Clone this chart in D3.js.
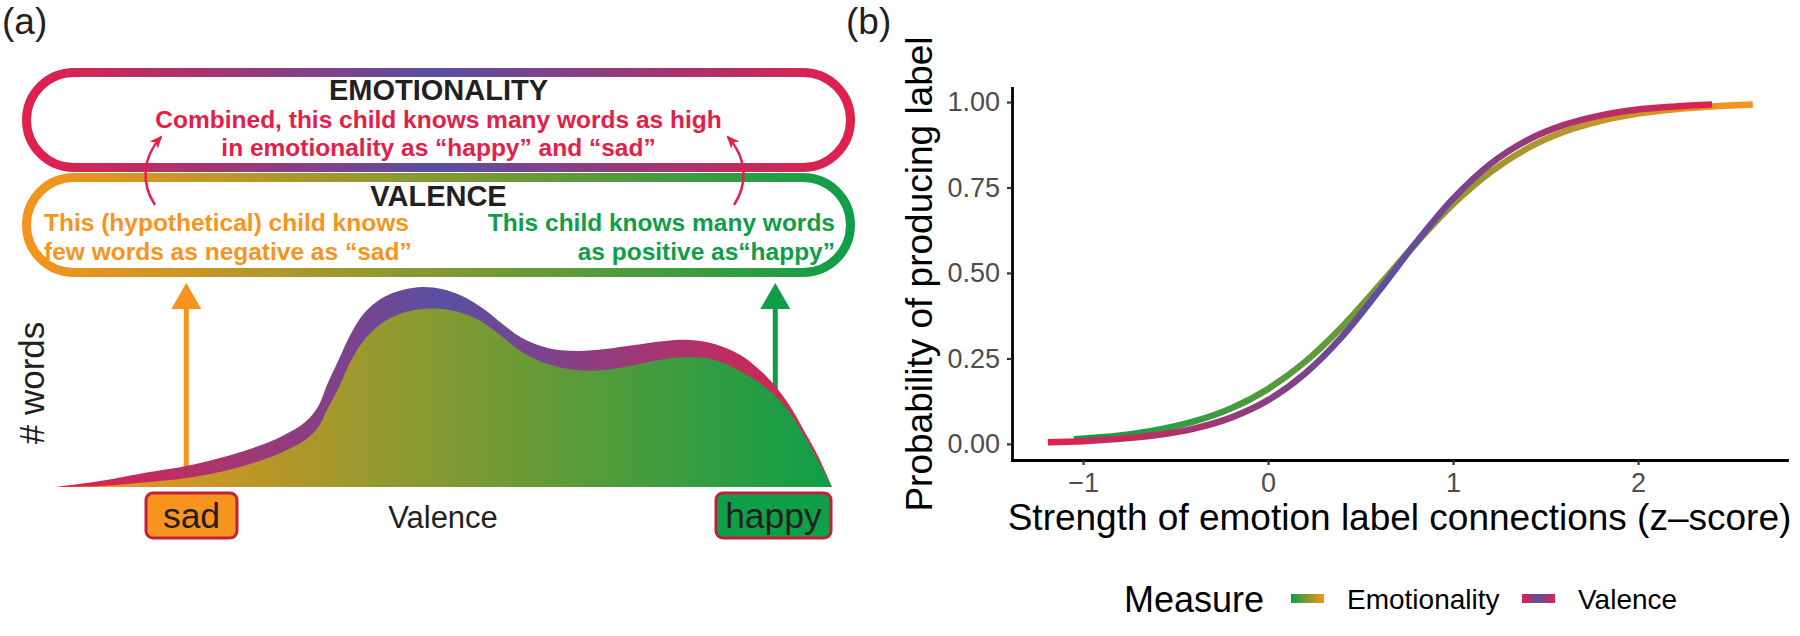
<!DOCTYPE html>
<html>
<head>
<meta charset="utf-8">
<script src="https://cdn.jsdelivr.net/npm/d3@7"></script>
<style>
  body { margin: 0; background: #fff; }
  svg { display: block; font-family: "Liberation Sans", Arial, Helvetica, sans-serif; }
</style>
</head>
<body>
<div id="chart"></div>
<script>
// ---------- panel (a): schematic word-count curve along valence ----------
// outer edge (top of the coloured band) and inner edge (top of the filled area)
var outerX = [0, 5.8, 12.2, 16.9, 21.2, 25.1, 29.0, 32.2, 33.9, 35.0, 36.5, 38.0, 39.8, 42.1, 44.7, 47.3, 49.8, 52.4, 55.0, 57.6, 60.1, 63.4, 67.1, 70.8, 74.6, 78.5, 81.7, 84.9, 88.2, 90.7, 92.9, 94.9, 96.5, 98.2, 100];
var outerY = [0, 3, 7.5, 10.5, 14.5, 19, 25, 32.5, 40.5, 51, 63.5, 76, 87, 94.5, 98.5, 100, 99, 95.5, 89.5, 81.5, 74.5, 69.5, 68, 69, 71, 73, 73.5, 71.5, 66, 58.5, 49.5, 38.5, 27.5, 15.5, 0];
var innerX = [0, 5.8, 12.2, 16.9, 21.2, 25.1, 29.0, 32.2, 33.9, 35.0, 36.5, 38.0, 39.8, 42.1, 44.7, 47.3, 49.8, 52.4, 55.0, 57.6, 60.1, 63.4, 67.1, 70.8, 74.6, 78.5, 81.7, 84.9, 88.2, 90.7, 92.9, 94.9, 96.5, 98.2, 100];
var innerY = [0, 0.5, 2.5, 4.5, 7.5, 11.5, 17, 23.5, 30, 38.5, 49.5, 62.5, 73.5, 82, 87, 89, 89, 87, 82.5, 75, 67.5, 61.5, 58.5, 58.5, 61, 64, 65, 63.5, 58, 52, 45, 35.5, 25.5, 13.5, 0];
var wordMarks = ["sad", "happy"];
var wordMarkX = [16.9, 92.7]; // where the two arrows stand on the valence axis

// ---------- panel (b): predicted probability of producing the label ----------
var emoZ = [-1.05, -0.8, -0.6, -0.4, -0.2, 0, 0.2, 0.4, 0.6, 0.8, 1.0, 1.2, 1.4, 1.6, 1.8, 2.0, 2.2, 2.4, 2.62];
var emoP = [0.014, 0.025, 0.041, 0.066, 0.104, 0.161, 0.240, 0.343, 0.463, 0.587, 0.701, 0.794, 0.864, 0.913, 0.945, 0.966, 0.979, 0.987, 0.993];
var valZ = [-1.19, -1.0, -0.8, -0.6, -0.4, -0.2, 0, 0.2, 0.4, 0.6, 0.8, 1.0, 1.2, 1.4, 1.6, 1.8, 2.0, 2.2, 2.4];
var valP = [0.005, 0.008, 0.015, 0.026, 0.045, 0.077, 0.128, 0.206, 0.314, 0.448, 0.589, 0.717, 0.818, 0.888, 0.933, 0.961, 0.978, 0.987, 0.993];
var yTicks = [0, 0.25, 0.5, 0.75, 1];
var xTicks = [-1, 0, 1, 2];
var legendLabels = ["Emotionality", "Valence"];

var RED = "#e3204a", PURPLE = "#5a4fa2", ORANGE = "#f7941d", GREEN = "#0e9e48", INK = "#231f20";

var svg = d3.select("#chart").append("svg")
  .attr("width", 1800)
  .attr("height", 636);

var defs = svg.append("defs");

function gradient(id, x1, x2, colors) {
  defs.append("linearGradient")
    .attr("id", id)
    .attr("gradientUnits", "userSpaceOnUse")
    .attr("x1", x1).attr("y1", 0)
    .attr("x2", x2).attr("y2", 0)
  .selectAll("stop")
    .data(colors)
  .enter().append("stop")
    .attr("offset", function(d, i) { return i / (colors.length - 1); })
    .attr("stop-color", function(d) { return d; });
}

gradient("emo-pill", 22, 855, [RED, PURPLE, RED]);
gradient("val-pill", 22, 855, [ORANGE, GREEN]);
gradient("band-grad", 55, 832, [RED, PURPLE, RED]);
gradient("fill-grad", 55, 832, [ORANGE, GREEN]);

defs.append("marker")
  .attr("id", "redhead")
  .attr("viewBox", "0 0 12 10")
  .attr("refX", 10).attr("refY", 5)
  .attr("markerWidth", 13).attr("markerHeight", 11)
  .attr("markerUnits", "userSpaceOnUse")
  .attr("orient", "auto")
  .append("path")
  .attr("d", "M0,0 L12,5 L0,10 L3,5 Z")
  .attr("fill", RED);

// panel letters
svg.append("text").attr("x", 2).attr("y", 34).attr("font-size", 37).attr("fill", INK).text("(a)");
svg.append("text").attr("x", 846).attr("y", 34).attr("font-size", 37).attr("fill", INK).text("(b)");

// ================= panel (a) =================
var pA = svg.append("g").attr("id", "panel-a");

// the two pills
pA.append("rect")
  .attr("x", 26.5).attr("y", 72.5).attr("width", 824).attr("height", 95)
  .attr("rx", 47.5).attr("ry", 47.5)
  .attr("fill", "#fff").attr("stroke", "url(#emo-pill)").attr("stroke-width", 9);

pA.append("rect")
  .attr("x", 26.5).attr("y", 177.5).attr("width", 824).attr("height", 95)
  .attr("rx", 47.5).attr("ry", 47.5)
  .attr("fill", "#fff").attr("stroke", "url(#val-pill)").attr("stroke-width", 9);

pA.append("text")
  .attr("x", 438.5).attr("y", 100)
  .attr("text-anchor", "middle").attr("font-size", 29).attr("font-weight", "bold")
  .attr("fill", INK).text("EMOTIONALITY");

pA.selectAll(".emo-line")
  .data(["Combined, this child knows many words as high", "in emotionality as \u201chappy\u201d and \u201csad\u201d"])
  .enter().append("text")
  .attr("class", "emo-line")
  .attr("x", 438.5)
  .attr("y", function(d, i) { return 127.5 + i * 28.5; })
  .attr("text-anchor", "middle").attr("font-size", 24.5).attr("font-weight", "bold")
  .attr("fill", RED)
  .text(function(d) { return d; });

pA.append("text")
  .attr("x", 438.5).attr("y", 206)
  .attr("text-anchor", "middle").attr("font-size", 29).attr("font-weight", "bold")
  .attr("fill", INK).text("VALENCE");

pA.selectAll(".neg-line")
  .data(["This (hypothetical) child knows", "few words as negative as \u201csad\u201d"])
  .enter().append("text")
  .attr("class", "neg-line")
  .attr("x", 44)
  .attr("y", function(d, i) { return 231 + i * 28.5; })
  .attr("font-size", 24.5).attr("font-weight", "bold")
  .attr("fill", ORANGE)
  .text(function(d) { return d; });

pA.selectAll(".pos-line")
  .data(["This child knows many words", "as positive as\u201chappy\u201d"])
  .enter().append("text")
  .attr("class", "pos-line")
  .attr("x", 835)
  .attr("y", function(d, i) { return 231 + i * 28.5; })
  .attr("text-anchor", "end")
  .attr("font-size", 24.5).attr("font-weight", "bold")
  .attr("fill", GREEN)
  .text(function(d) { return d; });

// curved red arrows from valence pill up to emotionality pill
pA.append("path")
  .attr("d", "M155,205 C141,184 142,158 161,137")
  .attr("fill", "none").attr("stroke", RED).attr("stroke-width", 2.5)
  .attr("marker-end", "url(#redhead)");
pA.append("path")
  .attr("d", "M734,205 C748,184 747,158 728,137")
  .attr("fill", "none").attr("stroke", RED).attr("stroke-width", 2.5)
  .attr("marker-end", "url(#redhead)");

// scales for the schematic
var xA = d3.scaleLinear().domain([0, 100]).range([55, 832]);
var yA = d3.scaleLinear().domain([0, 100]).range([487, 287]);

// vertical arrows (drawn first, the curve covers their foot)
var arrowCols = [ORANGE, GREEN];
wordMarkX.forEach(function(v, i) {
  var cx = xA(v);
  pA.append("line")
    .attr("x1", cx).attr("x2", cx)
    .attr("y1", yA(0)).attr("y2", 305)
    .attr("stroke", arrowCols[i]).attr("stroke-width", 5);
  pA.append("path")
    .attr("d", "M" + (cx - 15) + ",309 L" + (cx + 15) + ",309 L" + cx + ",283 Z")
    .attr("fill", arrowCols[i]);
});

var outer = outerX.map(function(d, i) { return { x: d, y: outerY[i] }; });
var inner = innerX.map(function(d, i) { return { x: d, y: innerY[i] }; });

var area = d3.area()
  .x(function(d) { return xA(d.x); })
  .y0(yA(0))
  .y1(function(d) { return yA(d.y); })
  .curve(d3.curveCatmullRom.alpha(0.5));

pA.append("path").datum(outer).attr("d", area).attr("fill", "url(#band-grad)");
pA.append("path").datum(inner).attr("d", area).attr("fill", "url(#fill-grad)");

// word boxes under the axis
var boxes = [
  { label: wordMarks[0], x0: 146, x1: 237, fill: ORANGE },
  { label: wordMarks[1], x0: 716, x1: 831, fill: "#0f9f48" }
];
boxes.forEach(function(b) {
  pA.append("rect")
    .attr("x", b.x0).attr("y", 493)
    .attr("width", b.x1 - b.x0).attr("height", 45)
    .attr("rx", 7)
    .attr("fill", b.fill).attr("stroke", "#c41e3a").attr("stroke-width", 3);
  pA.append("text")
    .attr("x", (b.x0 + b.x1) / 2).attr("y", 528)
    .attr("text-anchor", "middle").attr("font-size", 35.5)
    .attr("fill", INK).text(b.label);
});

pA.append("text")
  .attr("x", 443).attr("y", 528)
  .attr("text-anchor", "middle").attr("font-size", 31)
  .attr("fill", INK).text("Valence");

pA.append("text")
  .attr("transform", "translate(44,383) rotate(-90)")
  .attr("text-anchor", "middle").attr("font-size", 35)
  .attr("fill", INK).text("# words");

// ================= panel (b) =================
var pB = svg.append("g").attr("id", "panel-b");

var xB = d3.scaleLinear().domain([-1.384, 2.805]).range([1012, 1787]);
var yB = d3.scaleLinear().domain([-0.047, 1.041]).range([460, 88]);

var series = [
  { name: "emo", z: emoZ, p: emoP, colors: [GREEN, ORANGE] },
  { name: "val", z: valZ, p: valP, colors: [RED, PURPLE, RED] }
];

var line = d3.line()
  .x(function(d) { return xB(d.z); })
  .y(function(d) { return yB(d.p); })
  .curve(d3.curveMonotoneX);

series.forEach(function(s) {
  gradient("line-" + s.name, xB(s.z[0]), xB(s.z[s.z.length - 1]), s.colors);
  var pts = s.z.map(function(z, i) { return { z: z, p: s.p[i] }; });
  pB.append("path")
    .datum(pts)
    .attr("d", line)
    .attr("fill", "none")
    .attr("stroke", "url(#line-" + s.name + ")")
    .attr("stroke-width", 6.5);
});

var xAxis = pB.append("g")
  .attr("transform", "translate(0,460)")
  .call(d3.axisBottom(xB).tickValues(xTicks).tickFormat(d3.format("d")).tickSize(5).tickPadding(8).tickSizeOuter(0));

var yAxis = pB.append("g")
  .attr("transform", "translate(1012,0)")
  .call(d3.axisLeft(yB).tickValues(yTicks).tickFormat(d3.format(".2f")).tickSize(5).tickPadding(7).tickSizeOuter(0));

[xAxis, yAxis].forEach(function(ax) {
  ax.attr("font-family", null).attr("font-size", null);
  ax.select(".domain").attr("stroke", "#000").attr("stroke-width", 2.8).attr("stroke-linecap", "square");
  ax.selectAll(".tick line").attr("stroke", "#333").attr("stroke-width", 2.2);
  ax.selectAll(".tick text").attr("fill", "#4d4d4d").attr("font-size", 27);
});

pB.append("text")
  .attr("x", 1399.5).attr("y", 530)
  .attr("text-anchor", "middle").attr("font-size", 37)
  .attr("fill", "#000").text("Strength of emotion label connections (z\u2013score)");

pB.append("text")
  .attr("transform", "translate(932,274) rotate(-90)")
  .attr("text-anchor", "middle").attr("font-size", 37)
  .attr("fill", "#000").text("Probability of producing label");

// legend
pB.append("text")
  .attr("x", 1124).attr("y", 612)
  .attr("font-size", 36).attr("fill", "#000").text("Measure");

var legendKeyX = [1291, 1522];
legendLabels.forEach(function(lab, i) {
  var s = series[i];
  gradient("key-" + s.name, legendKeyX[i], legendKeyX[i] + 33, s.colors);
  pB.append("rect")
    .attr("x", legendKeyX[i]).attr("y", 594)
    .attr("width", 33).attr("height", 9)
    .attr("fill", "url(#key-" + s.name + ")");
  pB.append("text")
    .attr("x", legendKeyX[i] + 56).attr("y", 609)
    .attr("font-size", 28).attr("fill", "#000").text(lab);
});
</script>
</body>
</html>
